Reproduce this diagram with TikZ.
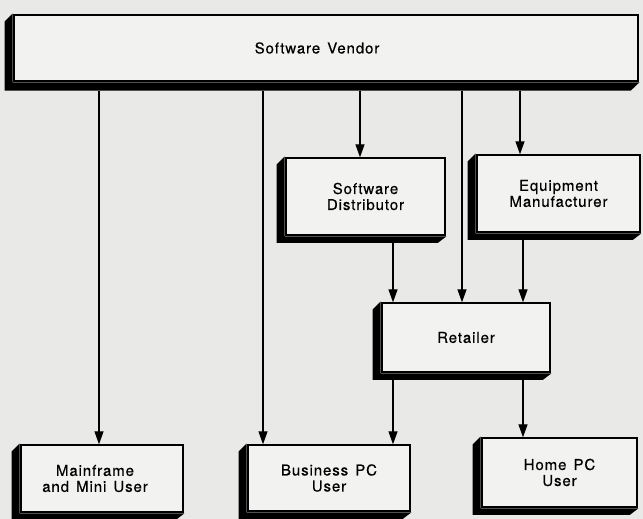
\documentclass[tikz,border=0pt]{standalone}
\usepackage{fontspec}
\setmainfont{TeX Gyre Heros}[LetterSpace=6,WordSpace=1.4,FakeBold=0.5]
\usetikzlibrary{arrows.meta,calc}
\definecolor{bgc}{RGB}{233,233,231}
\definecolor{facec}{RGB}{242,242,241}
\begin{document}
\begin{tikzpicture}[x=1pt,y=1pt,
  facebox/.style={draw=black,line width=1.4pt,fill=facec,inner sep=0pt,
    align=center,font=\fontsize{15}{16}\selectfont},
  arr/.style={line width=1.3pt,-{Triangle[length=13pt,width=9pt]}}]
\useasboundingbox (0,0) rectangle (643,519);
\fill[bgc] (0,0) rectangle (643,519);

% boxes (front faces)
\node[facebox,minimum width=624pt,minimum height=66pt] (sv) at (326,471) {Software Vendor\hspace*{18pt}};
\node[facebox,minimum width=159pt,minimum height=77pt] (sd) at (365.5,322.5) {Software\\Distributor};
\node[facebox,minimum width=163pt,minimum height=77pt] (em) at (558.5,325.5) {Equipment\\Manufacturer};
\node[facebox,minimum width=168pt,minimum height=69pt] (rt) at (466,181.5) {Retailer};
\node[facebox,minimum width=162pt,minimum height=67pt] (mf) at (102,40.5) {Mainframe\hspace*{14pt}\\and Mini User\hspace*{14pt}};
\node[facebox,minimum width=162pt,minimum height=66pt] (bp) at (329,41) {Business PC\\User};
\node[facebox,minimum width=155pt,minimum height=69pt] (hp) at (559.5,46.5) {Home PC\\User};

% extruded shadows (left and bottom)
\foreach \n/\dy in {sv/9,sd/7.3,em/7.3,rt/7.3,mf/7.3,bp/7.3,hp/7.3}{
  \fill[black] ([shift={(-0.7pt,0.7pt)}]\n.north west) -- ++(-8,-8)
    -- ($(\n.south west)+(-8.7,-\dy)$) -- ($(\n.south east)+(-8,-\dy)$)
    -- ([shift={(0.7pt,-0.7pt)}]\n.south east) -- ([shift={(-0.7pt,-0.7pt)}]\n.south west) -- cycle;
}

% x positions of connectors
\coordinate (xa) at (99,0);
\coordinate (xb) at (263,0);
\coordinate (xc) at (360,0);
\coordinate (xd) at (462,0);
\coordinate (xe) at (520,0);
\coordinate (xf) at (393,0);
\coordinate (xg) at (523,0);

% connectors
\draw[arr] ($(sv.south -| xa)+(0,-9)$) -- (mf.north -| xa);
\draw[arr] ($(sv.south -| xb)+(0,-9)$) -- (bp.north -| xb);
\draw[arr] ($(sv.south -| xc)+(0,-9)$) -- (sd.north -| xc);
\draw[arr] ($(sv.south -| xd)+(0,-9)$) -- (rt.north -| xd);
\draw[arr] ($(sv.south -| xe)+(0,-9)$) -- (em.north -| xe);
\draw[arr] ($(sd.south -| xf)+(0,-7)$) -- (rt.north -| xf);
\draw[arr] ($(em.south -| xg)+(0,-7)$) -- (rt.north -| xg);
\draw[arr] ($(rt.south -| xf)+(0,-7)$) -- (bp.north -| xf);
\draw[arr] ($(rt.south -| xg)+(0,-7)$) -- (hp.north -| xg);
\end{tikzpicture}
\end{document}
